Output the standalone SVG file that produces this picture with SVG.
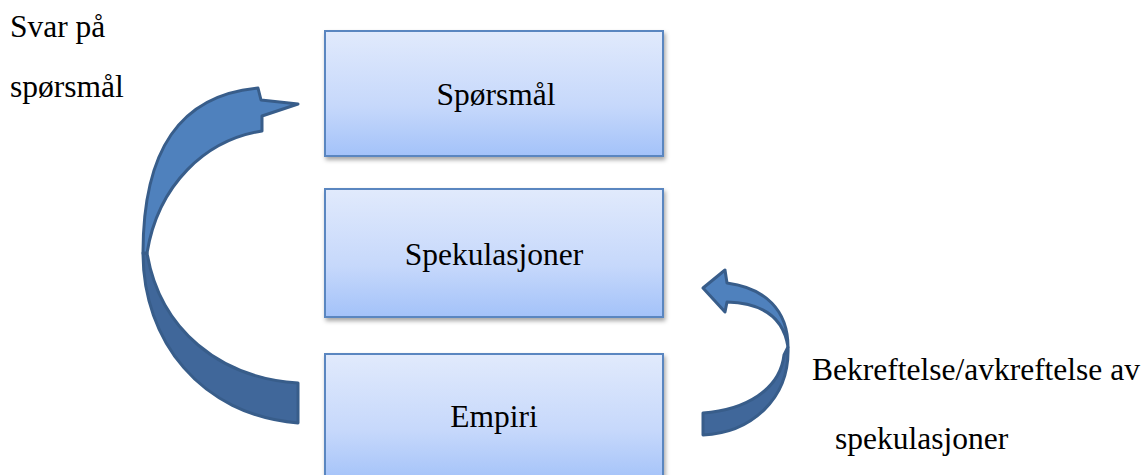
<svg xmlns="http://www.w3.org/2000/svg" width="1146" height="475" viewBox="0 0 1146 475">
  <defs>
    <linearGradient id="boxGrad" x1="0" y1="0" x2="0" y2="1">
      <stop offset="0" stop-color="#E1EAFC"/>
      <stop offset="0.6" stop-color="#C6D8FB"/>
      <stop offset="1" stop-color="#A3C2F9"/>
    </linearGradient>
    <filter id="shadow" x="-5%" y="-5%" width="115%" height="125%">
      <feDropShadow dx="1.5" dy="3" stdDeviation="2" flood-color="#000" flood-opacity="0.35"/>
    </filter>
    <style>
      .box { fill: url(#boxGrad); stroke: #5A86C0; stroke-width: 2; filter: url(#shadow); }
      text { font-family: "Liberation Serif", "Times New Roman", serif; font-size: 31.5px; fill: #000; }
      .front { fill: #4F81BD; stroke: #385D8A; stroke-width: 3; stroke-linejoin: round; }
      .back { fill: #40679A; stroke: #385D8A; stroke-width: 3; stroke-linejoin: round; }
    </style>
  </defs>
  <rect width="1146" height="475" fill="#FFFFFF"/>

  <g id="connectors">
    <g id="arrow-left">
      <path class="back" d="M 143,253 C 143,340 200,415 298,423 L 298,383 C 220,378 160,330 147,253 Z"/>
      <path class="front" d="M 143,253 C 143,150 180,95 258,88 L 261,100 L 298,104 L 262,116 L 262,131 C 205,140 158,185 147,253 Z"/>
    </g>
    <g id="arrow-right">
      <path class="back" d="M 788,347 C 790,400 750,433 703,435 L 703,413 C 745,410 780,390 784,355 Z"/>
      <path class="front" d="M 703,288 L 725,270 L 727,283 C 765,288 788,310 788,347 C 784,320 765,303 727,302 L 725,312 Z"/>
    </g>
  </g>

  <g id="node-sporsmal">
    <rect class="box" x="325" y="31" width="338" height="125"/>
    <text x="496" y="105" text-anchor="middle">Spørsmål</text>
  </g>
  <g id="node-spekulasjoner">
    <rect class="box" x="325" y="189" width="338" height="128"/>
    <text x="494" y="265" text-anchor="middle">Spekulasjoner</text>
  </g>
  <g id="node-empiri">
    <rect class="box" x="325" y="354" width="338" height="128"/>
    <text x="494" y="427" text-anchor="middle">Empiri</text>
  </g>

  <g id="label-svar">
    <text style="font-family: 'Times New Roman', 'Liberation Serif', serif"><tspan x="10" y="37">Svar på</tspan><tspan x="10" y="97">spørsmål</tspan></text>
  </g>
  <g id="label-bekreftelse">
    <text x="812" y="380">Bekreftelse/avkreftelse av</text>
    <text x="835" y="449">spekulasjoner</text>
  </g>
</svg>
